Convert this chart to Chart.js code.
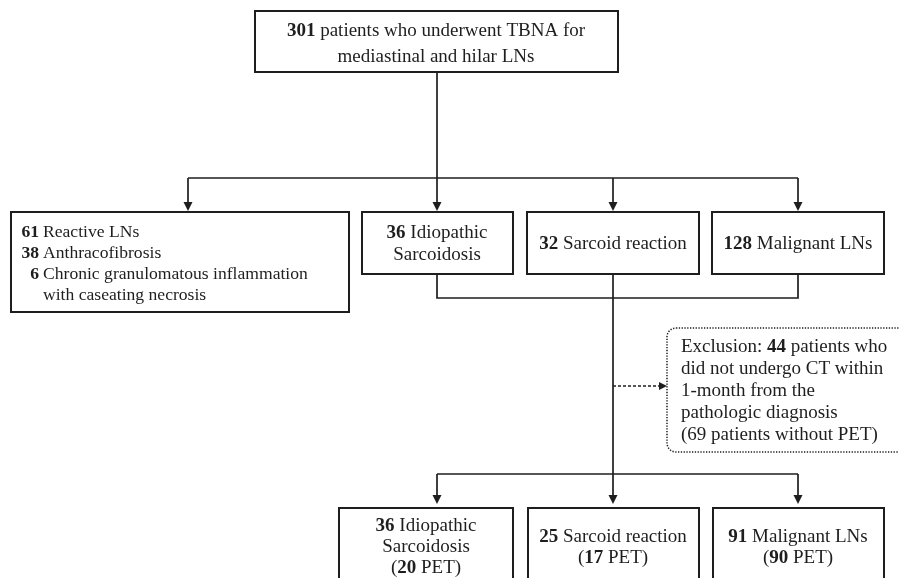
<!DOCTYPE html>
<html>
<head>
<meta charset="utf-8">
<script src="https://cdn.jsdelivr.net/npm/chart.js@4.4.0/dist/chart.umd.min.js"></script>
<style>
html,body{margin:0;padding:0;background:#fff;}
#wrap{width:899px;height:578px;position:relative;}
</style>
</head>
<body>
<div id="wrap"><canvas id="flowChart"></canvas></div>
<script>
// Flow of patients (counts)

const totalPatients = 301;

const otherLabels = ["Reactive LNs", "Anthracofibrosis", "Chronic granulomatous inflammation"];
const otherCounts = [61, 38, 6];

const groupLabels = ["Idiopathic Sarcoidosis", "Sarcoid reaction", "Malignant LNs"];
const groupCounts = [36, 32, 128];

const excludedNoCT = 44;
const excludedNoPET = 69;

const finalCounts = [36, 25, 91];
const petCounts = [20, 17, 90];

// layout (in units of the 899x578 scale)
const FONT = '"Liberation Serif", "Times New Roman", serif';
const INK = "#1e1e1e";

const topBox = {x1:255, y1:11, x2:618, y2:72};
const otherBox = {x1:11, y1:212, x2:349, y2:312};
const groupBoxes = [
  {x1:362, y1:212, x2:513, y2:274},
  {x1:527, y1:212, x2:699, y2:274},
  {x1:712, y1:212, x2:884, y2:274}
];
const finalBoxes = [
  {x1:339, y1:508, x2:513, y2:590},
  {x1:528, y1:508, x2:699, y2:590},
  {x1:713, y1:508, x2:884, y2:590}
];
const exclBox = {x1:667, y1:328, x2:908, y2:452};

const flowPlugin = {
  id: "flow",
  afterDraw(chart) {
    const ctx = chart.ctx;
    const sx = v => chart.scales.x.getPixelForValue(v);
    const sy = v => chart.scales.y.getPixelForValue(v);
    let fs = 19;

    ctx.save();
    ctx.strokeStyle = INK;
    ctx.fillStyle = INK;
    ctx.textBaseline = "middle";

    function box(b) {
      ctx.lineWidth = 2;
      ctx.setLineDash([]);
      ctx.strokeRect(sx(b.x1), sy(b.y1), sx(b.x2) - sx(b.x1), sy(b.y2) - sy(b.y1));
    }
    function line(pts, dash) {
      ctx.lineWidth = 1.7;
      ctx.setLineDash(dash || []);
      ctx.beginPath();
      pts.forEach((p, i) => i ? ctx.lineTo(sx(p[0]), sy(p[1])) : ctx.moveTo(sx(p[0]), sy(p[1])));
      ctx.stroke();
      ctx.setLineDash([]);
    }
    function arrowDown(x, y) {
      ctx.beginPath();
      ctx.moveTo(sx(x), sy(y));
      ctx.lineTo(sx(x) - 4.5, sy(y) - 9);
      ctx.lineTo(sx(x) + 4.5, sy(y) - 9);
      ctx.closePath();
      ctx.fill();
    }
    function arrowRight(x, y) {
      ctx.beginPath();
      ctx.moveTo(sx(x), sy(y));
      ctx.lineTo(sx(x) - 8, sy(y) - 4);
      ctx.lineTo(sx(x) - 8, sy(y) + 4);
      ctx.closePath();
      ctx.fill();
    }
    function setFont(bold) {
      ctx.font = (bold ? "bold " : "") + fs + "px " + FONT;
    }
    function text(runs, x, y, align) {
      let px = sx(x);
      let w = 0;
      runs.forEach(r => { setFont(r[1]); w += ctx.measureText(r[0]).width; });
      if (align === "center") px -= w / 2;
      else if (align === "right") px -= w;
      ctx.textAlign = "left";
      runs.forEach(r => {
        setFont(r[1]);
        ctx.fillText(r[0], px, sy(y));
        px += ctx.measureText(r[0]).width;
      });
    }

    // top box
    box(topBox);
    text([[String(totalPatients), true], [" patients who underwent TBNA for", false]], 436, 31, "center");
    text([["mediastinal and hilar LNs", false]], 436, 57, "center");

    // split to four
    line([[437, 72], [437, 178]]);
    line([[188, 178], [798, 178]]);
    [188, 437, 613, 798].forEach(x => {
      line([[x, 178], [x, 204]]);
      arrowDown(x, 211);
    });

    // other diagnoses box
    box(otherBox);
    fs = 17.6;
    const oy = [232, 253, 274];
    otherCounts.forEach((c, i) => {
      text([[String(c), true]], 39, oy[i], "right");
      text([[otherLabels[i], false]], 43, oy[i], "left");
    });
    text([["with caseating necrosis", false]], 43, 295, "left");
    fs = 19;

    // group boxes
    groupBoxes.forEach(b => box(b));
    text([[String(groupCounts[0]), true], [" Idiopathic", false]], 437, 233, "center");
    text([["Sarcoidosis", false]], 437, 255, "center");
    text([[String(groupCounts[1]), true], [" " + groupLabels[1], false]], 613, 244, "center");
    text([[String(groupCounts[2]), true], [" " + groupLabels[2], false]], 798, 244, "center");

    // merge
    line([[437, 274], [437, 298], [798, 298], [798, 274]]);
    line([[613, 274], [613, 474]]);

    // exclusion
    line([[613, 386], [660, 386]], [3, 2]);
    arrowRight(667, 386);
    ctx.lineWidth = 1.5;
    ctx.setLineDash([1.3, 1.5]);
    ctx.beginPath();
    ctx.roundRect(sx(exclBox.x1), sy(exclBox.y1), sx(exclBox.x2) - sx(exclBox.x1), sy(exclBox.y2) - sy(exclBox.y1), 9);
    ctx.stroke();
    ctx.setLineDash([]);
    const ex = 681;
    text([["Exclusion: ", false], [String(excludedNoCT), true], [" patients who", false]], ex, 347, "left");
    text([["did not undergo CT within", false]], ex, 369, "left");
    text([["1-month from the", false]], ex, 391, "left");
    text([["pathologic diagnosis", false]], ex, 413, "left");
    text([["(" + excludedNoPET + " patients without PET)", false]], ex, 435, "left");

    // split to three
    line([[437, 474], [798, 474]]);
    [437, 613, 798].forEach(x => {
      line([[x, 474], [x, 497]]);
      arrowDown(x, 504);
    });

    finalBoxes.forEach(b => box(b));
    text([[String(finalCounts[0]), true], [" Idiopathic", false]], 426, 526, "center");
    text([["Sarcoidosis", false]], 426, 547, "center");
    text([["(", false], [String(petCounts[0]), true], [" PET)", false]], 426, 568, "center");
    text([[String(finalCounts[1]), true], [" " + groupLabels[1], false]], 613, 537, "center");
    text([["(", false], [String(petCounts[1]), true], [" PET)", false]], 613, 558, "center");
    text([[String(finalCounts[2]), true], [" " + groupLabels[2], false]], 798, 537, "center");
    text([["(", false], [String(petCounts[2]), true], [" PET)", false]], 798, 558, "center");

    ctx.restore();
  }
};

new Chart(
document.getElementById("flowChart"),
{
type:"scatter",

data:{
datasets:[{
data:[],
pointRadius:0
}]
},

options:{
responsive:true,
maintainAspectRatio:false,
animation:false,
layout:{padding:0},
plugins:{
legend:{display:false},
tooltip:{enabled:false}
},
scales:{
x:{type:"linear", min:0, max:899, display:false},
y:{type:"linear", min:0, max:578, reverse:true, display:false}
}
},

plugins:[flowPlugin]
}
);
</script>
</body>
</html>
